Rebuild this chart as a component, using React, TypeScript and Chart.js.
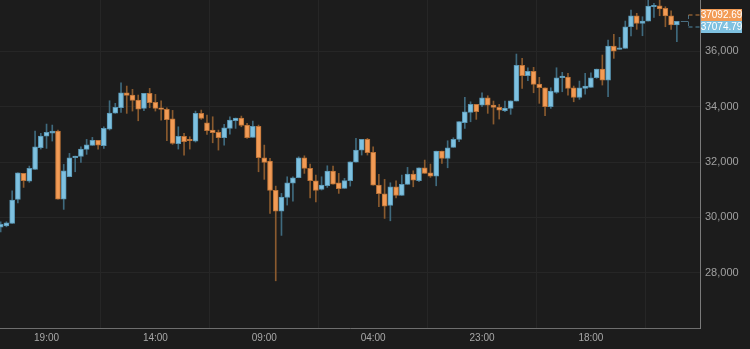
import React, { useEffect, useRef } from "react";
import { Chart, registerables } from "chart.js";

Chart.register(...registerables);

// Hourly candles (oldest -> newest)
const opens = [
  29648, 29695, 29782, 30650, 31591, 31312, 31735, 32517, 32940, 33048,
  33121, 30661, 31468, 32155, 32206, 32459, 32603, 32784, 32589, 33193,
  33772, 33963, 34506, 34423, 34242, 33942, 34484, 34159, 33953, 33906,
  33566, 32661, 32929, 32806, 32759, 33761, 33421, 33157, 33074, 32878,
  33218, 33493, 33591, 33338, 32893, 33291, 32155, 32036, 30976, 30227,
  30723, 31240, 31432, 32155, 31772, 31323, 31012, 31142, 31674, 31251,
  31048, 31323, 31999, 32433, 32820, 32350, 31168, 30853, 30433, 31106,
  30795, 31193, 31565, 31323, 31793, 31612, 31493, 32397, 32133, 32531,
  32820, 33421, 33797, 34086, 34061, 34325, 34061, 33978, 33855, 33942,
  34206, 35497, 35121, 35280, 34821, 34687, 34000, 34520, 35049, 35074,
  34687, 34340, 34665, 34701, 35049, 35363, 34965, 36195, 36076, 36112,
  36893, 37291, 37016, 37099, 37617, 37653, 37559, 37291, 36955,
];
const highs = [
  29840, 29840, 30961, 31612, 31591, 31855, 33121, 33038, 33374, 33338,
  33157, 31916, 32314, 32216, 32553, 32820, 32893, 32784, 33276, 34217,
  34123, 34868, 34748, 34629, 34423, 34484, 34665, 34448, 34217, 33963,
  33869, 33276, 33038, 32915, 33844, 33880, 33699, 33638, 33157, 33363,
  33638, 33591, 33663, 33399, 33482, 33338, 32614, 32133, 31131, 30867,
  31468, 31468, 32191, 32227, 31927, 31529, 31468, 31866, 31855, 31591,
  31410, 32010, 32857, 32820, 32857, 32553, 31555, 31374, 31251, 31323,
  31529, 31808, 31685, 31793, 32072, 31927, 32397, 32397, 32770, 32878,
  33464, 34340, 34180, 34086, 34506, 34398, 34206, 34086, 34206, 34217,
  35906, 35750, 35410, 35425, 35063, 34687, 34687, 35410, 35244, 35208,
  34748, 34929, 35208, 35229, 35363, 35870, 36412, 36618, 36510, 37099,
  37497, 37378, 37255, 37900, 37740, 37900, 37617, 37472, 37093,
];
const lows = [
  29478, 29659, 29782, 30527, 31084, 31265, 31735, 32470, 32495, 32759,
  30661, 30289, 31468, 31649, 31989, 32278, 32603, 32470, 32495, 33157,
  33761, 33797, 33761, 33844, 33493, 33855, 33963, 33844, 33519, 32770,
  32640, 32470, 32253, 32470, 32723, 33544, 33001, 32697, 32433, 32614,
  33012, 33218, 33276, 32857, 32893, 31649, 31374, 30144, 27706, 29348,
  30444, 30589, 31432, 31591, 30708, 30563, 30987, 31084, 31204, 30867,
  31048, 31131, 31999, 32253, 32253, 31168, 30383, 29963, 29876, 30708,
  30795, 31193, 31106, 31287, 31591, 31446, 31142, 31952, 31793, 32531,
  32734, 33218, 33457, 33544, 34000, 33761, 33374, 33555, 33819, 33725,
  34206, 34665, 34940, 34506, 34123, 33674, 33942, 34484, 34542, 34423,
  34180, 34267, 34459, 34701, 35027, 34785, 34361, 35750, 36076, 36112,
  36557, 36799, 36568, 37099, 37233, 37291, 36893, 36799, 36351,
];
const closes = [
  29746, 29804, 30625, 31612, 31323, 31772, 32553, 32940, 33074, 33121,
  30661, 31685, 32155, 32216, 32470, 32625, 32784, 32614, 33218, 33772,
  33978, 34506, 34412, 34231, 33916, 34484, 34144, 33942, 33906, 33529,
  32676, 32929, 32734, 32770, 33761, 33580, 33132, 33059, 32878, 33240,
  33519, 33591, 33327, 32878, 33291, 32155, 31989, 30976, 30227, 30734,
  31251, 31432, 32155, 31772, 31323, 30976, 31168, 31674, 31204, 31034,
  31330, 32010, 32433, 32820, 32336, 31168, 30853, 30408, 31106, 30795,
  31193, 31565, 31348, 31793, 31591, 31493, 32397, 32133, 32517, 32820,
  33464, 33819, 34086, 33819, 34325, 34061, 33978, 33880, 33953, 34217,
  35497, 35121, 35280, 34810, 34687, 34000, 34568, 35049, 35110, 34665,
  34340, 34687, 34748, 35049, 35363, 34965, 36195, 36014, 36134, 36893,
  37291, 37016, 37099, 37642, 37667, 37533, 37280, 36955, 37092.69,
];

const xTickIdx = [8, 27, 46, 65, 84, 103];
const xTickLabels = ["19:00", "14:00", "09:00", "04:00", "23:00", "18:00"];
const yTicks = [28000, 30000, 32000, 34000, 36000];
const priceLabels = ["37092.69", "37074.79"];

const Y_MIN = 26000;
const Y_MAX = 37860;
const X_MIN = -0.12;
const X_MAX = 122.04;

const BG = "#1c1c1c";
const UP_FILL = "#7ec1e0";
const UP_EDGE = "#5a97b5";
const DOWN_FILL = "#f29b55";
const DOWN_EDGE = "#bb7237";
const UP_WICK = "#3f6a7e";
const DOWN_WICK = "#8a5a2e";

const priceTagPlugin = {
  id: "priceTags",
  afterDatasetsDraw(chart: any) {
    const { ctx, chartArea, scales } = chart;
    const x = scales.x;
    const y = scales.y;
    const last = closes.length - 1;
    const yc = Math.round(y.getPixelForValue(closes[last])) + 0.5;
    const xl = x.getPixelForValue(last);
    const right = chartArea.right;
    const forkX = Math.round(right - 12) + 0.5;
    const yo = yc - 6.5;
    const yb = yc + 5.5;
    ctx.save();
    ctx.lineWidth = 1;
    ctx.setLineDash([]);
    ctx.strokeStyle = "#4a6e80";
    ctx.beginPath();
    ctx.moveTo(xl + 4, yc);
    ctx.lineTo(forkX, yc);
    ctx.stroke();
    ctx.setLineDash([4, 3]);
    ctx.beginPath();
    ctx.moveTo(forkX, yo);
    ctx.lineTo(forkX, yb);
    ctx.stroke();
    ctx.strokeStyle = "#c07a3a";
    ctx.beginPath();
    ctx.moveTo(forkX, yo);
    ctx.lineTo(right, yo);
    ctx.stroke();
    ctx.strokeStyle = "#4f8aa6";
    ctx.beginPath();
    ctx.moveTo(forkX, yb);
    ctx.lineTo(right, yb);
    ctx.stroke();
    ctx.setLineDash([]);
    const bx = right + 1;
    const bw = 41;
    const bh = 12;
    ctx.fillStyle = DOWN_FILL;
    ctx.fillRect(bx, yo - bh / 2, bw, bh);
    ctx.fillStyle = UP_FILL;
    ctx.fillRect(bx, yb - bh / 2, bw, bh);
    ctx.fillStyle = "#ffffff";
    ctx.font = "10px 'Liberation Sans', Arial, sans-serif";
    ctx.textAlign = "center";
    ctx.textBaseline = "middle";
    ctx.fillText(priceLabels[0], bx + bw / 2, yo + 0.5);
    ctx.fillText(priceLabels[1], bx + bw / 2, yb + 0.5);
    ctx.restore();
  },
};

export default function App() {
  const canvasRef = useRef<HTMLCanvasElement | null>(null);

  useEffect(() => {
    document.body.style.margin = "0";
    document.body.style.background = BG;
    const canvas = canvasRef.current;
    if (!canvas) return;
    const isUp = closes.map((c, i) => c >= opens[i]);
    const chart = new Chart(canvas, {
      type: "bar",
      data: {
        datasets: [
          {
            label: "body",
            data: opens.map((o, i) => ({ x: i, y: [o, closes[i]] })) as any,
            backgroundColor: isUp.map((u) => (u ? UP_FILL : DOWN_FILL)),
            borderColor: isUp.map((u) => (u ? UP_EDGE : DOWN_EDGE)),
            borderWidth: 1,
            borderSkipped: false,
            barThickness: 5,
            minBarLength: 1.5,
            grouped: false,
            order: 0,
            clip: 0,
          } as any,
          {
            label: "wick",
            data: lows.map((l, i) => ({ x: i, y: [l, highs[i]] })) as any,
            backgroundColor: isUp.map((u) => (u ? UP_WICK : DOWN_WICK)),
            borderWidth: 0,
            barThickness: 1,
            grouped: false,
            order: 1,
            clip: 0,
          } as any,
        ],
      },
      options: {
        responsive: false,
        animation: false,
        devicePixelRatio: 1,
        layout: { padding: 0 },
        plugins: {
          legend: { display: false },
          tooltip: { enabled: false },
        },
        scales: {
          x: {
            type: "linear",
            min: X_MIN,
            max: X_MAX,
            offset: false,
            afterBuildTicks: (s: any) => {
              s.ticks = xTickIdx.map((v) => ({ value: v }));
            },
            afterFit: (s: any) => {
              s.height = 21;
              s.paddingLeft = 0;
              s.paddingRight = 0;
              s.paddingTop = 0;
              s.paddingBottom = 0;
            },
            grid: {
              color: "#262626",
              drawTicks: false,
            },
            border: { display: true, color: "#6e6e6e", width: 1 },
            ticks: {
              autoSkip: false,
              maxRotation: 0,
              padding: 4,
              color: "#a8a8a8",
              font: { family: "'Liberation Sans', Arial, sans-serif", size: 10 },
              callback: (v: any) => {
                const i = xTickIdx.indexOf(Number(v));
                return i >= 0 ? xTickLabels[i] : "";
              },
            },
          },
          y: {
            type: "linear",
            position: "right",
            min: Y_MIN,
            max: Y_MAX,
            afterBuildTicks: (s: any) => {
              s.ticks = yTicks.map((v) => ({ value: v }));
            },
            afterFit: (s: any) => {
              s.width = 50;
              s.paddingTop = 0;
              s.paddingBottom = 0;
              s.paddingLeft = 0;
              s.paddingRight = 0;
            },
            grid: {
              color: "#262626",
              drawTicks: false,
            },
            border: { display: true, color: "#7a7a7a", width: 1 },
            ticks: {
              padding: 5,
              color: "#a0a0a0",
              font: { family: "'Liberation Sans', Arial, sans-serif", size: 11 },
              callback: (v: any) => Number(v).toLocaleString("en-US"),
            },
          },
        },
      },
      plugins: [priceTagPlugin],
    });
    return () => chart.destroy();
  }, []);

  return (
    <div style={{ width: 750, height: 349, background: BG, overflow: "hidden" }}>
      <canvas ref={canvasRef} width={750} height={349} style={{ display: "block" }} />
    </div>
  );
}
